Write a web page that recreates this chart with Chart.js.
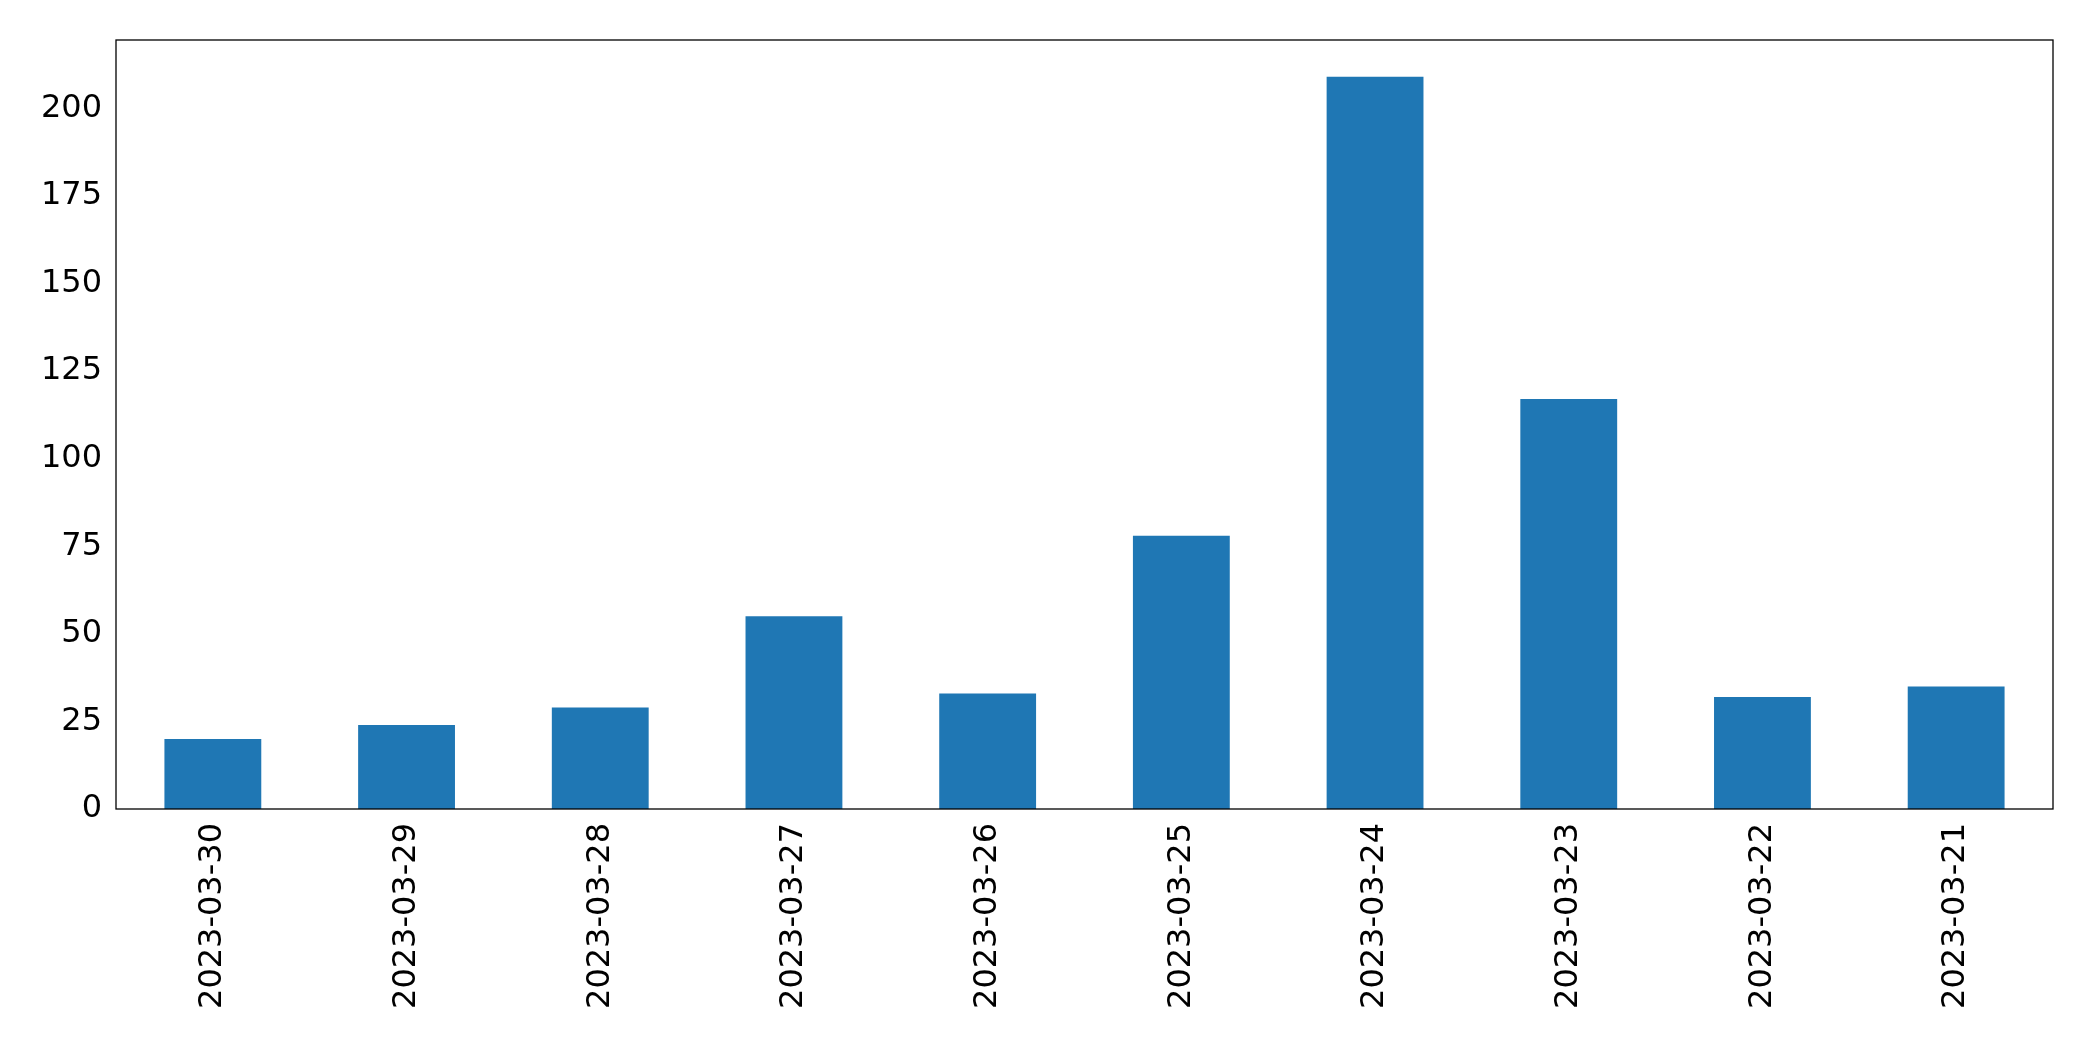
<!DOCTYPE html>
<html>
<head>
<meta charset="utf-8">
<script src="https://cdn.jsdelivr.net/npm/chart.js@4.4.0/dist/chart.umd.min.js"></script>
<style>
  html, body { margin: 0; padding: 0; background: #fff; }
  #wrap { width: 2093px; height: 1061px; }
</style>
</head>
<body>
<div id="wrap"><canvas id="chart"></canvas></div>
<script>
// dati
const dates = ['2023-03-30', '2023-03-29', '2023-03-28', '2023-03-27', '2023-03-26',
               '2023-03-25', '2023-03-24', '2023-03-23', '2023-03-22', '2023-03-21'];
const counts = [20, 24, 29, 55, 33, 78, 209, 117, 32, 35];
const yTicks = [0, 25, 50, 75, 100, 125, 150, 175, 200];

// cornice attorno all'area del grafico
const frame = {
    id: 'frame',
    afterDraw(chart) {
        const { ctx, chartArea: a } = chart;
        ctx.save();
        ctx.strokeStyle = '#000';
        ctx.lineWidth = 1.3;
        ctx.strokeRect(a.left, a.top, a.right - a.left, a.bottom - a.top);
        ctx.restore();
    }
};

Chart.defaults.font.family = 'DejaVu Sans';
Chart.defaults.color = '#000';

new Chart(document.getElementById('chart'), {
    type: 'bar',
    data: {
        labels: dates,
        datasets: [{
            data: counts,
            backgroundColor: '#1f77b4',
            categoryPercentage: 0.5,
            barPercentage: 1
        }]
    },
    options: {
        responsive: true,
        maintainAspectRatio: false,
        animation: false,
        layout: { padding: { top: 40, right: 40, left: 0, bottom: 0 } },
        plugins: { legend: { display: false }, tooltip: { enabled: false } },
        scales: {
            x: {
                grid: { display: false, drawTicks: true },
                border: { display: false },
                ticks: { font: { size: 32 }, maxRotation: 90, minRotation: 90, padding: 6 },
                afterFit(s) { s.height = 252; }
            },
            y: {
                min: 0,
                max: 219.5,
                grid: { display: false },
                border: { display: false },
                afterBuildTicks(s) { s.ticks = yTicks.map(v => ({ value: v })); },
                ticks: { font: { size: 32 }, padding: 6 },
                afterFit(s) { s.width = 116; }
            }
        }
    },
    plugins: [frame]
});
</script>
</body>
</html>
